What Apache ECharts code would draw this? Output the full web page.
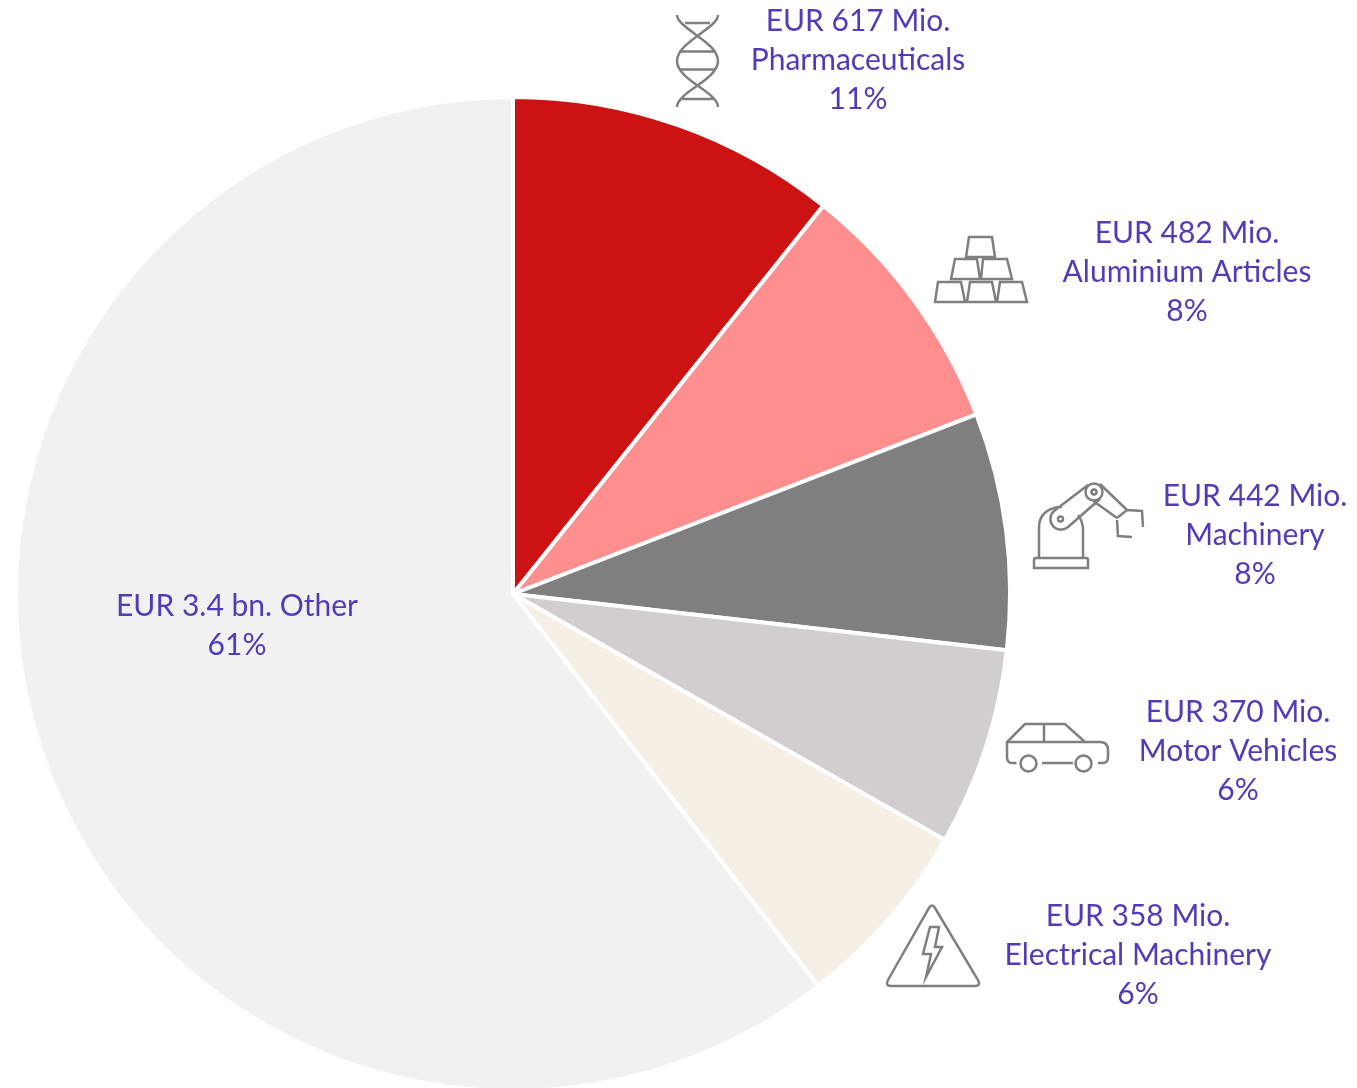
<!DOCTYPE html>
<html>
<head>
<meta charset="utf-8">
<title>Exports by product group</title>
<script src="https://cdn.jsdelivr.net/npm/echarts@6/dist/echarts.min.js"></script>
<style>
    html, body { margin: 0; padding: 0; background: #fff; }
    #chart { width: 1357px; height: 1088px; }
</style>
</head>
<body>
<div id="chart"></div>
<script>
// order is clockwise from 12 o'clock
const categories = ['Pharmaceuticals', 'Aluminium Articles', 'Machinery', 'Motor Vehicles', 'Electrical Machinery', 'Other'];
const values = [617, 482, 442, 370, 358, 3480]; // EUR Mio., "Other"
const amountLabels = ['EUR 617 Mio.', 'EUR 482 Mio.', 'EUR 442 Mio.', 'EUR 370 Mio.', 'EUR 358 Mio.', 'EUR 3.4 bn.'];
const shareLabels = ['11%', '8%', '8%', '6%', '6%', '61%'];
const sliceColors = ['#CC1212', '#FF8F8F', '#7F7F7F', '#D0CECE', '#F5EFE6', '#F1F1F1'];
const labelCentres = [[858, 60], [1187, 272], [1255, 535], [1238, 751], [1138, 955], [237, 626]];

const iconColor = '#7F7F7F';
const iconPaths = [
    // dna
    'M677 15C677 28 718 42 718 61C718 80 677 92 677 107M718 15C718 28 677 42 677 61C677 80 718 92 718 107' +
    'M685 23L710 23M679 51.5L716 51.5M679 69.5L716 69.5M682 99L713 99',
    // aluminium bars
    'M969 237L992 237L995 257L966 257ZM955 259L977 259L980 279L951 279ZM983 259L1007 259L1012 279L981 279Z' +
    'M938 282L961 282L965 302L935 302ZM970 282L992 282L996 302L967 302ZM1000 282L1022 282L1027 302L997 302Z',
    // robot arm
    'M1036 558L1086 558Q1088 558 1088 560L1088 568L1034 568L1034 560Q1034 558 1036 558Z' +
    'M1039 558L1039 527C1039 515 1048 507 1062 507M1083 558L1083 530C1083 525 1082 520 1078 515' +
    'M1054 511L1088 485M1068 527L1100 499M1054 511A10 10 0 0 0 1068 527' +
    'M1063 519A2.5 2.5 0 1 1 1058 519A2.5 2.5 0 1 1 1063 519' +
    'M1102.5 492A8.5 8.5 0 1 1 1085.5 492A8.5 8.5 0 1 1 1102.5 492M1096.5 492A2.5 2.5 0 1 1 1091.5 492A2.5 2.5 0 1 1 1096.5 492' +
    'M1100 484L1127 510M1092 500L1117 518M1117 518L1127 510M1127 510L1142 511L1143 527M1117 520L1118 536L1132 537',
    // car
    'M1016.5 763L1012 763Q1007 763 1007 757L1007 742L1025 724L1065 724L1085 742L1100 742Q1108 742 1108 750' +
    'L1108 757Q1108 763 1103 763L1098 763M1007 742L1085 742M1044 724L1044 742M1042 763L1073 763' +
    'M1036.5 763.5A8 8 0 1 1 1020.5 763.5A8 8 0 1 1 1036.5 763.5M1091.5 763.5A8 8 0 1 1 1075.5 763.5A8 8 0 1 1 1091.5 763.5',
    // warning sign
    'M929 908Q932 903 935 908L978 980Q981 986 975 986L891 986Q885 986 888 980Z' +
    'M930 927L939 927L935 947L942 947L926 977L931 954L923 954Z'
];

const chart = echarts.init(document.getElementById('chart'));
chart.setOption({
    animation: false,
    series: [{
        type: 'pie',
        center: [513, 594],
        radius: [0, 497],
        startAngle: 90,
        clockwise: true,
        silent: true,
        avoidLabelOverlap: false,
        data: categories.map(function (name, i) {
            return { name: name, value: values[i], itemStyle: { color: sliceColors[i] } };
        }),
        itemStyle: { borderColor: '#fff', borderWidth: 4 },
        label: {
            show: true,
            fontFamily: 'Lato',
            fontSize: 30,
            lineHeight: 39,
            color: '#4F3CB8',
            align: 'center',
            formatter: function (p) {
                const i = p.dataIndex;
                if (i === categories.length - 1) {
                    return amountLabels[i] + ' ' + p.name + '\n' + shareLabels[i];
                }
                return amountLabels[i] + '\n' + p.name + '\n' + shareLabels[i];
            }
        },
        labelLine: { show: false },
        labelLayout: function (p) {
            return {
                x: labelCentres[p.dataIndex][0],
                y: labelCentres[p.dataIndex][1],
                align: 'center',
                verticalAlign: 'middle'
            };
        }
    }, {
        // the graphic component has no path type, custom series does
        type: 'custom',
        coordinateSystem: 'none',
        silent: true,
        data: iconPaths.map(function (p, i) { return [i]; }),
        renderItem: function (params) {
            return {
                type: 'path',
                shape: { pathData: iconPaths[params.dataIndex] },
                style: { fill: 'none', stroke: iconColor, lineWidth: 2.5 }
            };
        }
    }]
});
</script>
</body>
</html>
